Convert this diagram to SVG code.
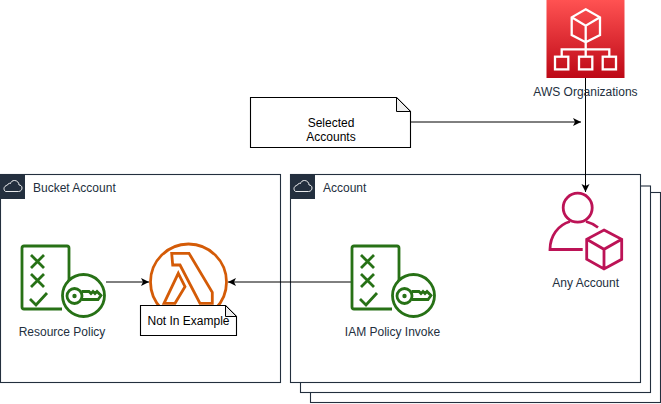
<svg xmlns="http://www.w3.org/2000/svg" width="661" height="404" viewBox="0 0 661 404">
<style>
text{font-family:"Liberation Sans",Arial,sans-serif;font-size:12px;fill:#232F3E}
.c{text-anchor:middle}
.k{fill:#000}
.box{fill:#fff;stroke:#232F3E;stroke-width:1.100}
.note{fill:#fff;stroke:#000;stroke-width:1.100}
.fold{fill:#eee;stroke:#000;stroke-width:1;stroke-linejoin:round}
.g{fill:none;stroke:#277116;stroke-width:2.800}
.gi{fill:#fff;stroke:#277116;stroke-width:2.800}
.o{fill:none;stroke:#D45B07;stroke-width:2.800}
.m{fill:none;stroke:#BC1356;stroke-width:2.800}
.w{fill:none;stroke:#fff;stroke-width:2.300}
.line{fill:none;stroke:#000;stroke-width:1}
</style>
<defs>
<linearGradient id="red" x1="0" y1="1" x2="0" y2="0"><stop offset="0" stop-color="#BD0816"/><stop offset="1" stop-color="#FF5252"/></linearGradient>
<marker id="arrow" markerUnits="userSpaceOnUse" markerWidth="9" markerHeight="9" refX="8" refY="4" orient="auto"><path d="M0 0L8 4L0 8L2 4Z" fill="#000"/></marker>
<symbol id="policy" overflow="visible">
<path class="g" d="M48 43V3Q48 1 46 1H3Q1 1 1 3V62Q1 64 3 64H41"/>
<path class="g" d="M10 10L23 23M23 10L10 23M10 29L23 42M23 29L10 42M9 54L15 60L26 48"/>
<circle class="gi" cx="62.500" cy="50.500" r="21"/>
<circle class="g" cx="53.500" cy="51" r="7.500"/>
<circle cx="53.500" cy="51" r="2.200" fill="#277116"/>
<path class="g" d="M60.500 46.500H68L70 48.500L72 46.500L74 48.500L76 46.500L80 50.500L77 54.500H60.500"/>
</symbol>
</defs>

<g id="account-stack-3"><rect class="box" x="310.500" y="192.500" width="350" height="210"/></g>
<g id="account-stack-2"><rect class="box" x="300.500" y="186" width="350" height="206.500"/></g>

<g id="bucket-account">
<rect class="box" x="0.500" y="174.500" width="280" height="208"/>
<rect x="0" y="174" width="25" height="25" fill="#232F3E"/>
<path d="M6 191.500H18.500C21 191.500 22 189.500 22 188C22 186 20.500 185 19 185C19 182.500 17 180.500 14.500 180.500C12.500 180.500 11 181.500 10.500 183.500C9.500 183 8 183.500 7.500 185C5.500 185.500 4 187 4 188.500C4 190.500 5 191.500 6 191.500Z" fill="none" stroke="#fff" stroke-width="0.900"/>
<text x="33" y="192">Bucket Account</text>
</g>

<g id="account">
<rect class="box" x="290.500" y="174.500" width="350" height="208"/>
<rect x="290" y="174" width="25" height="25" fill="#232F3E"/>
<path d="M296 191.500H308.500C311 191.500 312 189.500 312 188C312 186 310.500 185 309 185C309 182.500 307 180.500 304.500 180.500C302.500 180.500 301 181.500 300.500 183.500C299.500 183 298 183.500 297.500 185C295.500 185.500 294 187 294 188.500C294 190.500 295 191.500 296 191.500Z" fill="none" stroke="#fff" stroke-width="0.900"/>
<text x="323" y="192">Account</text>
</g>

<g id="connectors">
<path class="line" d="M585.500 78V192" marker-end="url(#arrow)"/>
<path class="line" d="M411 122H581" marker-end="url(#arrow)"/>
<path class="line" d="M106 282H149" marker-end="url(#arrow)"/>
<path class="line" d="M351 282H228" marker-end="url(#arrow)"/>
</g>

<g id="aws-organizations">
<rect x="546.500" y="0" width="78" height="78" fill="url(#red)"/>
<path class="w" d="M585.700 9.300L600 17.300V35L585.700 42.300L571.700 35V17.300ZM571.700 17.300L585.700 25.700L600 17.300M585.700 25.700V42.300M585.700 42.300V49.300M561.700 56V49.300H609.300V56M585.700 49.300V56"/>
<rect class="w" x="555" y="56.700" width="13.300" height="12.700"/>
<rect class="w" x="579" y="56.700" width="13.300" height="12.700"/>
<rect class="w" x="602.700" y="56.700" width="13.300" height="12.700"/>
<text class="c" x="585.500" y="96">AWS Organizations</text>
</g>

<g id="selected-accounts">
<path class="note" d="M250.500 97.500H396.500L410.500 111.500V147.500H250.500Z"/>
<path class="fold" d="M396.500 97.500V111.500H410.500Z"/>
<text class="c k" x="331" y="127" style="fill:#000">Selected</text>
<text class="c k" x="331" y="141" style="fill:#000">Accounts</text>
</g>

<g id="resource-policy">
<use href="#policy" x="21" y="245"/>
<text class="c" x="62" y="336">Resource Policy</text>
</g>

<g id="lambda">
<circle class="o" cx="188.500" cy="282" r="38"/>
<path class="o" d="M171.700 253.300H189L212.300 292.300V303.300H200L180 265H172.700ZM178.300 273.300L185 286.700L175 303.300H164Z"/>
</g>

<g id="not-in-example">
<path class="note" d="M140.500 305.500H225.500L236.500 316.500V335.500H140.500Z"/>
<path class="fold" d="M225.500 305.500V316.500H236.500Z"/>
<text class="c" x="188.500" y="325" style="fill:#000">Not In Example</text>
</g>

<g id="iam-policy">
<use href="#policy" x="351" y="245"/>
<text class="c" x="392.500" y="336">IAM Policy Invoke</text>
</g>

<g id="any-account">
<circle class="m" cx="577.700" cy="207.700" r="14.500"/>
<path class="m" d="M582.700 249.500H550C550 236 558 225 570 221.500M586 221.500C590 222.500 594 224.500 598 227.500"/>
<path class="m" d="M604 230L621.700 239.300V259.300L604 269L586.700 259.300V239.300ZM586.700 239.300L604 249.300L621.700 239.300M604 249.300V269"/>
<text class="c" x="585.700" y="287">Any Account</text>
</g>
</svg>
